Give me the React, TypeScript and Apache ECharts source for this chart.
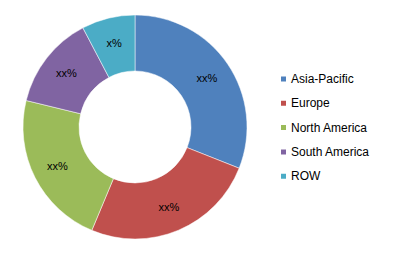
import React, { useEffect, useRef } from "react";
import * as echarts from "echarts";

const regions = ["Asia-Pacific", "Europe", "North America", "South America", "ROW"];
const shares = [31, 25.3, 22.5, 13.5, 7.7];
const sliceLabels = ["xx%", "xx%", "xx%", "xx%", "x%"];
const colors = ["#4F81BD", "#C0504D", "#9BBB59", "#8064A2", "#4BACC6"];

export default function App() {
  const ref = useRef<HTMLDivElement>(null);
  useEffect(() => {
    if (!ref.current) return;
    const chart = echarts.init(ref.current, undefined, { renderer: "svg" });
    chart.setOption({
      animation: false,
      color: colors,
      legend: {
        orient: "vertical",
        left: 279,
        top: 73,
        padding: 0,
        itemWidth: 7,
        itemHeight: 7,
        itemGap: 12.3,
        icon: "rect",
        textStyle: { fontSize: 12, color: "#000", fontFamily: "Liberation Sans, Arial, sans-serif", padding: [0, 0, 0, -1] },
        data: regions,
      },
      series: [
        {
          type: "pie",
          center: [135, 127],
          radius: [56, 112],
          startAngle: 90,
          clockwise: true,
          label: {
            show: true,
            position: "inside",
            color: "#000",
            fontSize: 11,
            fontFamily: "Liberation Sans, Arial, sans-serif",
            formatter: (p: any) => sliceLabels[p.dataIndex],
          },
          labelLine: { show: false },
          itemStyle: { borderColor: "#fff", borderWidth: 0.5 },
          emphasis: { disabled: true },
          data: regions.map((r, i) => ({ name: r, value: shares[i] })),
        },
      ],
    });
    return () => chart.dispose();
  }, []);
  return <div ref={ref} style={{ width: 402, height: 255, position: "absolute", left: 0, top: 0, background: "#fff" }} />;
}
